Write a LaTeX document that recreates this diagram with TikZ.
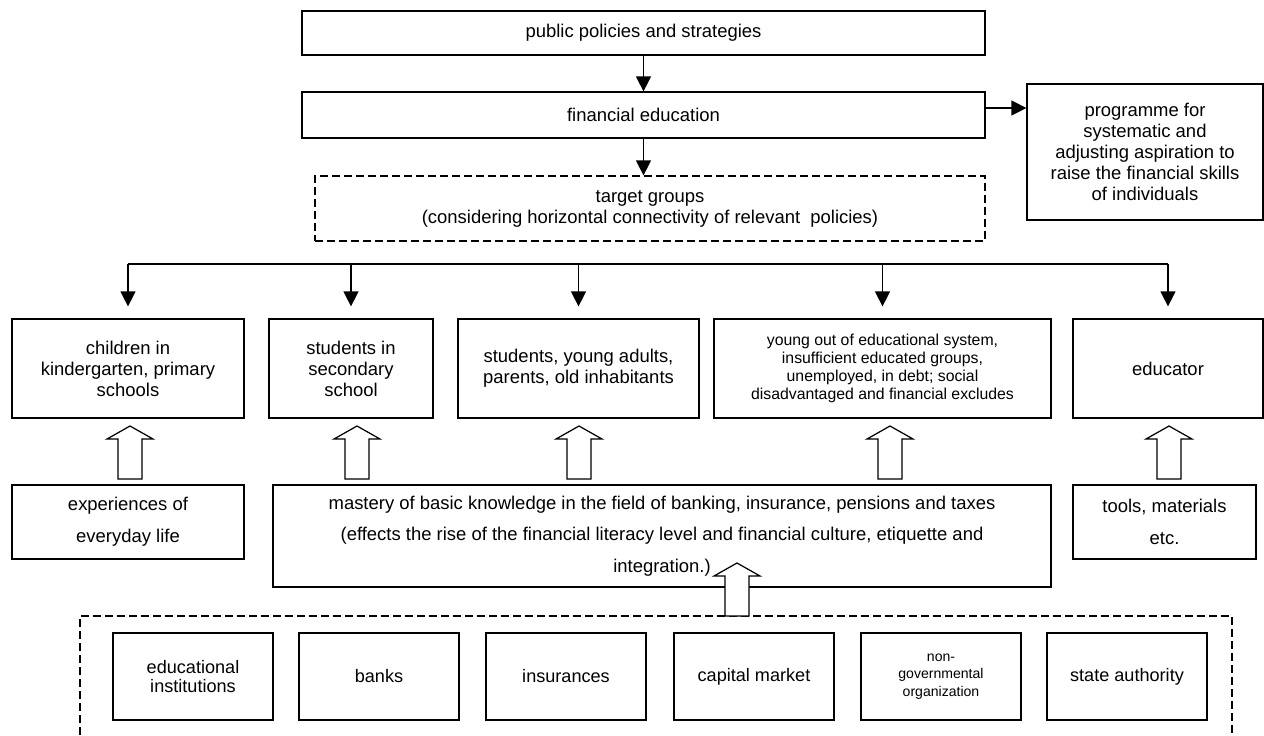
\documentclass[tikz,border=0pt]{standalone}
\usepackage{fontspec}
\setmainfont{Liberation Sans}
\usetikzlibrary{arrows.meta,positioning}

\newcommand{\liftarrow}[3]{%
  \draw[lift] (#1-12,#3) -- (#1-12,#2+13) -- (#1-23,#2+13) -- (#1,#2)
    -- (#1+23,#2+13) -- (#1+12,#2+13) -- (#1+12,#3) -- cycle;}

\begin{document}
\begin{tikzpicture}[
  x=0.2mm, y=-0.2mm,
  font=\fontsize{10.5}{12}\selectfont,
  box/.style={draw, line width=0.7pt, align=center, inner sep=0pt},
  dbox/.style={box, dash pattern=on 1.6mm off 0.8mm},
  arr/.style={-{Triangle[length=3mm, width=3mm]}, line width=0.7pt},
  lift/.style={draw, fill=white, line width=0.7pt},
  small/.style={font=\fontsize{9}{10.3}\selectfont},
  wide/.style={font=\fontsize{10.5}{18}\selectfont},
  actor/.style={box, minimum width=3.2cm, minimum height=17.4mm, font=\fontsize{10.3}{10.8}\selectfont},
]
\useasboundingbox (0,0) rectangle (1264,735);

\node[box, minimum width=13.66cm, minimum height=8.8mm] (policy) at (643.5,33) {public policies and strategies};
\node[box, minimum width=13.66cm, minimum height=9.2mm] (fined) at (643.5,115) {financial education};
\node[box, minimum width=4.72cm, minimum height=27.2mm] (prog) at (1145,152) {programme for\\systematic and\\adjusting aspiration to\\raise the financial skills\\of individuals};
\node[dbox, minimum width=13.4cm, minimum height=13mm] (target) at (650,208.5) {target groups\\(considering horizontal connectivity of relevant\ \ policies)};

\draw[arr] (policy) -- (fined);
\draw[arr] (fined.south) -- (fined.south |- target.north);
\draw[arr] ([yshift=1.4mm]fined.east) -- ([yshift=1.4mm]fined.east -| prog.west);

\coordinate (bus) at (0,264);
\node[box, minimum width=4.64cm, minimum height=19.8mm] (kid) at (128,368.5) {children in\\kindergarten, primary\\schools};
\node[box, minimum width=3.28cm, minimum height=19.8mm] (sec) at (351,368.5) {students in\\secondary\\school};
\node[box, minimum width=4.82cm, minimum height=19.8mm] (adult) at (578.5,368.5) {students, young adults,\\parents, old inhabitants};
\node[box, small, minimum width=6.74cm, minimum height=19.8mm] (young) at (882.5,368.5) {young out of educational system,\\insufficient educated groups,\\unemployed, in debt; social\\disadvantaged and financial excludes};
\node[box, minimum width=3.8cm, minimum height=19.8mm] (edu) at (1168,368.5) {educator};

\draw[line width=0.7pt] (kid.north |- bus) -- (edu.north |- bus);
\foreach \n in {kid,sec,adult,young,edu}
  \draw[arr, shorten >=2.4mm] (\n.north |- bus) -- (\n.north);

\node[box, wide, minimum width=4.64cm, minimum height=14.8mm] (exper) at (128,522) {experiences of\\everyday life};
\node[box, wide, minimum width=15.56cm, minimum height=20.4mm] (mastery) at (662,536) {mastery of basic knowledge in the field of banking, insurance, pensions and taxes\\(effects the rise of the financial literacy level and financial culture, etiquette and\\integration.)};
\node[box, wide, minimum width=3.66cm, minimum height=14.8mm] (tools) at (1164.5,522) {tools, materials\\etc.};

\liftarrow{130}{426}{479}
\liftarrow{357}{426}{479}
\liftarrow{579}{426}{479}
\liftarrow{890}{426}{479}
\liftarrow{1169}{426}{479}

\coordinate (grp-sw) at (80,735);
\coordinate (grp-nw) at (80,616);
\coordinate (grp-ne) at (1232,616);
\coordinate (grp-se) at (1232,735);
\draw[line width=0.7pt, dash pattern=on 1.6mm off 0.8mm] (grp-sw) -- (grp-nw) -- (grp-ne) -- (grp-se);

\node[actor] (school) at (193,676.5) {educational\\institutions};
\node[actor] (banks) at (379,676.5) {banks};
\node[actor] (insur) at (566,676.5) {insurances};
\node[actor] (capital) at (754,676.5) {capital market};
\node[actor, font=\fontsize{8}{10}\selectfont] (ngo) at (941,676.5) {non-\\governmental\\organization};
\node[actor] (state) at (1127,676.5) {state authority};

\liftarrow{737}{563}{616}
\end{tikzpicture}
\end{document}
